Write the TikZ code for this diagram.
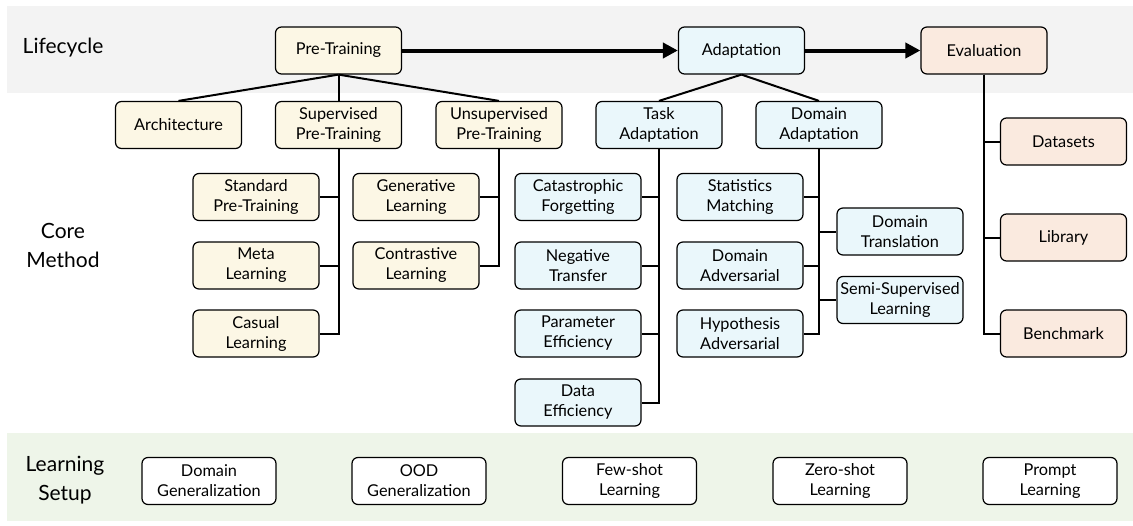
\documentclass[tikz,border=0pt]{standalone}
\usepackage{fontspec}
\setmainfont{Lato}
\usepackage{tikz}
\usetikzlibrary{arrows.meta}
\definecolor{lifegray}{HTML}{F3F3F3}
\definecolor{setupgreen}{HTML}{EEF5E9}
\definecolor{ptfill}{HTML}{FCF7E5}
\definecolor{adfill}{HTML}{EAF7FB}
\definecolor{evfill}{HTML}{FAEADF}

\begin{document}
\begin{tikzpicture}[x=1pt,y=-1pt]
\tikzstyle{every node}=[font=\fontsize{16.3}{20}\selectfont]
\tikzstyle{box}=[draw, line width=1.2pt, rounded corners=6pt, align=center, minimum width=126pt, minimum height=47pt, inner sep=2pt]
\tikzstyle{ptbox}=[box, fill=ptfill]
\tikzstyle{adbox}=[box, fill=adfill]
\tikzstyle{evbox}=[box, fill=evfill]
\tikzstyle{setbox}=[box, fill=white, minimum width=134pt]
\tikzstyle{rowlabel}=[align=center, font=\fontsize{21}{29}\selectfont]
\tikzstyle{tree}=[line width=2pt]
\tikzstyle{flow}=[line width=4pt, -{Triangle[length=15pt,width=15pt]}]
\useasboundingbox (0,0) rectangle (1133,525);
% bands
\fill [lifegray] (7,6) rectangle (1133,93);
\fill [setupgreen] (7,433) rectangle (1133,521);
\node [rowlabel] (lblife) at (63,48) {Lifecycle};
\node [rowlabel] (lbcore) at (63,245) {Core\\Method};
\node [rowlabel] (lbsetup) at (65,480) {Learning\\Setup};
% lifecycle
\node [ptbox] (pt) at (338.5,50.5) {Pre-Training};
\node [adbox] (ad) at (741.5,50.5) {Adaptation};
\node [evbox] (ev) at (984,50.5) {Evaluation};
\draw [flow] (pt) -- (ad);
\draw [flow] (ad) -- (ev);
% pre-training
\node [ptbox] (arch) at (178.5,125) {Architecture};
\node [ptbox] (spt) at (338.5,125) {Supervised\\Pre-Training};
\node [ptbox] (upt) at (499,125) {Unsupervised\\Pre-Training};
\node [ptbox] (std) at (256,197) {Standard\\Pre-Training};
\node [ptbox] (meta) at (256,265.5) {Meta\\Learning};
\node [ptbox] (cas) at (256,333.5) {Casual\\Learning};
\node [ptbox] (gen) at (416,197) {Generative\\Learning};
\node [ptbox] (con) at (416,265.5) {Contrastive\\Learning};
\draw [tree] (pt.south) -- (arch.north);
\draw [tree] (pt.south) -- (spt.north);
\draw [tree] (pt.south) -- (upt.north);
\draw [tree] (spt.south) |- (std.east);
\draw [tree] (spt.south) |- (meta.east);
\draw [tree] (spt.south) |- (cas.east);
\draw [tree] (upt.south) |- (gen.east);
\draw [tree] (upt.south) |- (con.east);
% adaptation
\node [adbox] (tad) at (659,125) {Task\\Adaptation};
\node [adbox] (dad) at (819,125) {Domain\\Adaptation};
\node [adbox] (cat) at (578,197) {Catastrophic\\Forgetting};
\node [adbox] (neg) at (578,265.5) {Negative\\Transfer};
\node [adbox] (par) at (578,333.5) {Parameter\\Efficiency};
\node [adbox] (data) at (578,402.5) {Data\\Efficiency};
\node [adbox] (stat) at (740,197) {Statistics\\Matching};
\node [adbox] (dadv) at (740,265.5) {Domain\\Adversarial};
\node [adbox] (hyp) at (740,333.5) {Hypothesis\\Adversarial};
\node [adbox] (trans) at (900,231.5) {Domain\\Translation};
\node [adbox] (semi) at (900,300) {Semi-Supervised\\Learning};
\draw [tree] (ad.south) -- (tad.north);
\draw [tree] (ad.south) -- (dad.north);
\draw [tree] (tad.south) |- (cat.east);
\draw [tree] (tad.south) |- (neg.east);
\draw [tree] (tad.south) |- (par.east);
\draw [tree] (tad.south) |- (data.east);
\draw [tree] (dad.south) |- (stat.east);
\draw [tree] (dad.south) |- (dadv.east);
\draw [tree] (dad.south) |- (hyp.east);
\draw [tree] (dad.south) |- (trans.west);
\draw [tree] (dad.south) |- (semi.west);
% evaluation
\node [evbox] (dset) at (1063.5,141.5) {Datasets};
\node [evbox] (lib) at (1063.5,237.5) {Library};
\node [evbox] (bench) at (1063.5,333.5) {Benchmark};
\draw [tree] (ev.south) |- (dset.west);
\draw [tree] (ev.south) |- (lib.west);
\draw [tree] (ev.south) |- (bench.west);
% learning setup
\node [setbox] (dg) at (209,481) {Domain\\Generalization};
\node [setbox] (ood) at (419,481) {OOD\\Generalization};
\node [setbox] (few) at (629.5,481) {Few-shot\\Learning};
\node [setbox] (zero) at (840,481) {Zero-shot\\Learning};
\node [setbox] (prompt) at (1050,481) {Prompt\\Learning};
\end{tikzpicture}
\end{document}
